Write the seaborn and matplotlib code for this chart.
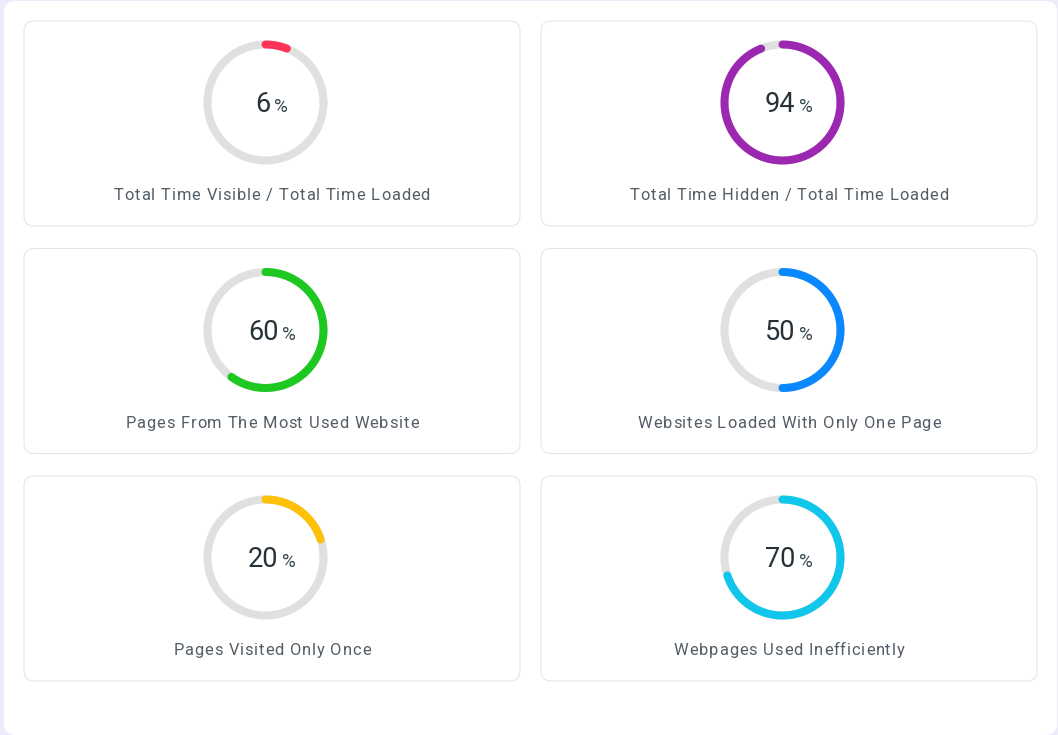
import numpy as np
import pandas as pd
import matplotlib
matplotlib.use("Agg")
import matplotlib.pyplot as plt
from matplotlib.patches import FancyBboxPatch
from matplotlib.offsetbox import TextArea, HPacker, AnnotationBbox
from matplotlib import font_manager
from matplotlib.ft2font import FT2Font
import seaborn as sns

# ---- data ----
titles = [
    "Total Time Visible / Total Time Loaded",
    "Total Time Hidden / Total Time Loaded",
    "Pages From The Most Used Website",
    "Websites Loaded With Only One Page",
    "Pages Visited Only Once",
    "Webpages Used Inefficiently",
]
values = [6, 94, 60, 50, 20, 70]
colors = ["#ff3358", "#9c27b0", "#1dc920", "#0a88ff", "#ffc107", "#10c6ea"]

sns.set_theme(style="white")
plt.rcParams["font.family"] = ["Roboto", "DejaVu Sans"]

W, H = 1058, 735
DPI = 100
fig = plt.figure(figsize=(W / DPI, H / DPI), dpi=DPI)
fig.patch.set_facecolor("#eeecfb")
ax = fig.add_axes([0, 0, 1, 1])
ax.set_xlim(0, W)
ax.set_ylim(H, 0)
ax.axis("off")

PX = 72 / DPI  # points per pixel

# font metrics for letter-spaced captions
CAP_SIZE = 11.9
CAP_LS = 0.85  # letter spacing in px
font_path = font_manager.findfont(font_manager.FontProperties(family="Roboto"))
ft = FT2Font(font_path)
ft.set_size(CAP_SIZE, DPI)


def advances(s):
    out = []
    for ch in s:
        g = ft.load_char(ord(ch))
        out.append(g.linearHoriAdvance / 65536.0)
    return np.array(out)


def spaced_text(cx, y, s, **kw):
    adv = advances(s) + CAP_LS
    total = adv.sum() - CAP_LS
    xs = cx - total / 2 + np.concatenate([[0], np.cumsum(adv)[:-1]])
    for ch, x in zip(s, xs):
        if ch != " ":
            ax.text(x, y, ch, ha="left", va="baseline", fontsize=CAP_SIZE, **kw)


# white panel
ax.add_patch(FancyBboxPatch((4, 1), W - 5, H - 1,
                            boxstyle="round,pad=0,rounding_size=12",
                            facecolor="white", edgecolor="none", zorder=0))

card_x = [24, 541]
card_y = [21, 248.5, 476]
card_w, card_h = 496, 205
ring_r = 58
ring_lw = 8 * PX

for i, (title, val, col) in enumerate(zip(titles, values, colors)):
    r, c = divmod(i, 2)
    x0, y0 = card_x[c], card_y[r]
    ax.add_patch(FancyBboxPatch((x0, y0), card_w, card_h,
                                boxstyle="round,pad=0,rounding_size=10",
                                facecolor="white", edgecolor="#e4e4e4",
                                lw=1 * PX, zorder=1))
    ccx = x0 + card_w / 2
    cx = ccx - 6.5
    cy = y0 + 81.5

    # track
    th = np.linspace(0, 2 * np.pi, 361)
    track = pd.DataFrame({"x": cx + ring_r * np.cos(th), "y": cy - ring_r * np.sin(th)})
    sns.lineplot(data=track, x="x", y="y", sort=False, estimator=None, ax=ax,
                 color="#e0e0e0", lw=ring_lw, zorder=2, legend=False)

    # value arc (clockwise from top)
    th2 = np.deg2rad(np.linspace(90, 90 - 360 * val / 100, 300))
    arc = pd.DataFrame({"x": cx + ring_r * np.cos(th2), "y": cy - ring_r * np.sin(th2)})
    sns.lineplot(data=arc, x="x", y="y", sort=False, estimator=None, ax=ax,
                 color=col, lw=ring_lw, zorder=3, legend=False,
                 solid_capstyle="round")

    # center value text
    num = TextArea(str(val), textprops=dict(fontsize=19.5, color="#263238"))
    pct = TextArea("%", textprops=dict(fontsize=13.5, color="#37474f"))
    box = HPacker(children=[num, pct], align="baseline", pad=0, sep=2.6)
    ab = AnnotationBbox(box, (ccx, cy + 2), xycoords="data", frameon=False,
                        box_alignment=(0.5, 0.5), pad=0, zorder=4)
    ax.add_artist(ab)

    # caption
    spaced_text(ccx, y0 + 179.2, title, color="#535d67", zorder=4)

ax.set_xlabel("")
ax.set_ylabel("")
fig.savefig("out.png", dpi=DPI, facecolor=fig.get_facecolor())
